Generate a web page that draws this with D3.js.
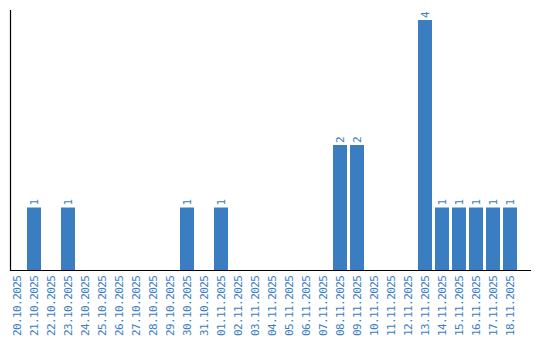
<!DOCTYPE html>
<html>
<head>
<meta charset="utf-8">
<script src="https://cdn.jsdelivr.net/npm/d3@7"></script>
<style>
  html, body { margin: 0; padding: 0; background: #fff; }
  svg { display: block; }
  text { font-family: "DejaVu Sans Mono", monospace; }
</style>
</head>
<body>
<svg id="chart" width="540" height="340"></svg>
<script>
const categories = ["20.10.2025","21.10.2025","22.10.2025","23.10.2025","24.10.2025","25.10.2025","26.10.2025","27.10.2025","28.10.2025","29.10.2025","30.10.2025","31.10.2025","01.11.2025","02.11.2025","03.11.2025","04.11.2025","05.11.2025","06.11.2025","07.11.2025","08.11.2025","09.11.2025","10.11.2025","11.11.2025","12.11.2025","13.11.2025","14.11.2025","15.11.2025","16.11.2025","17.11.2025","18.11.2025"];
const values = [0,1,0,1,0,0,0,0,0,0,1,0,1,0,0,0,0,0,0,2,2,0,0,0,4,1,1,1,1,1];

const color = "#3a7ec1";
const svg = d3.select("#chart");

const x = d3.scaleBand()
  .domain(categories)
  .range([8.5, 518.5])
  .paddingInner(3/17)
  .paddingOuter(1.5/17);

const y = d3.scaleLinear().domain([0, 4.16]).range([270, 10]);

// bars
svg.selectAll("rect.bar")
  .data(values.map((v, i) => ({c: categories[i], v})))
  .join("rect")
  .attr("class", "bar")
  .attr("x", d => x(d.c))
  .attr("width", x.bandwidth())
  .attr("y", d => y(d.v))
  .attr("height", d => y(0) - y(d.v))
  .attr("fill", color);

// value labels
svg.selectAll("text.val")
  .data(values.map((v, i) => ({c: categories[i], v})).filter(d => d.v > 0))
  .join("text")
  .attr("class", "val")
  .attr("transform", d => `translate(${x(d.c) + x.bandwidth()/2},${y(d.v) - 2}) rotate(-90)`)
  .attr("dy", "0.35em")
  .attr("text-anchor", "start")
  .attr("font-size", 11)
  .attr("fill", color)
  .text(d => d.v);

// axes lines
svg.append("line")
  .attr("x1", 10.5).attr("x2", 10.5)
  .attr("y1", 10).attr("y2", 270.5)
  .attr("stroke", "#000").attr("stroke-width", 1.2);
svg.append("line")
  .attr("x1", 10).attr("x2", 531)
  .attr("y1", 270.5).attr("y2", 270.5)
  .attr("stroke", "#000").attr("stroke-width", 1.2);

// category labels
const xAxis = d3.axisBottom(x).tickSize(0).tickPadding(0);
const gx = svg.append("g").call(xAxis);
gx.select(".domain").remove();
gx.selectAll(".tick").attr("transform", null);
gx.selectAll(".tick text")
  .attr("transform", d => `translate(${x(d) + x.bandwidth()/2},336) rotate(-90)`)
  .attr("x", 0).attr("y", 0)
  .attr("dy", "0.35em")
  .attr("text-anchor", "start")
  .attr("font-size", 11)
  .attr("letter-spacing", "-0.6px")
  .attr("font-family", "DejaVu Sans Mono, monospace")
  .attr("fill", color);
</script>
</body>
</html>
